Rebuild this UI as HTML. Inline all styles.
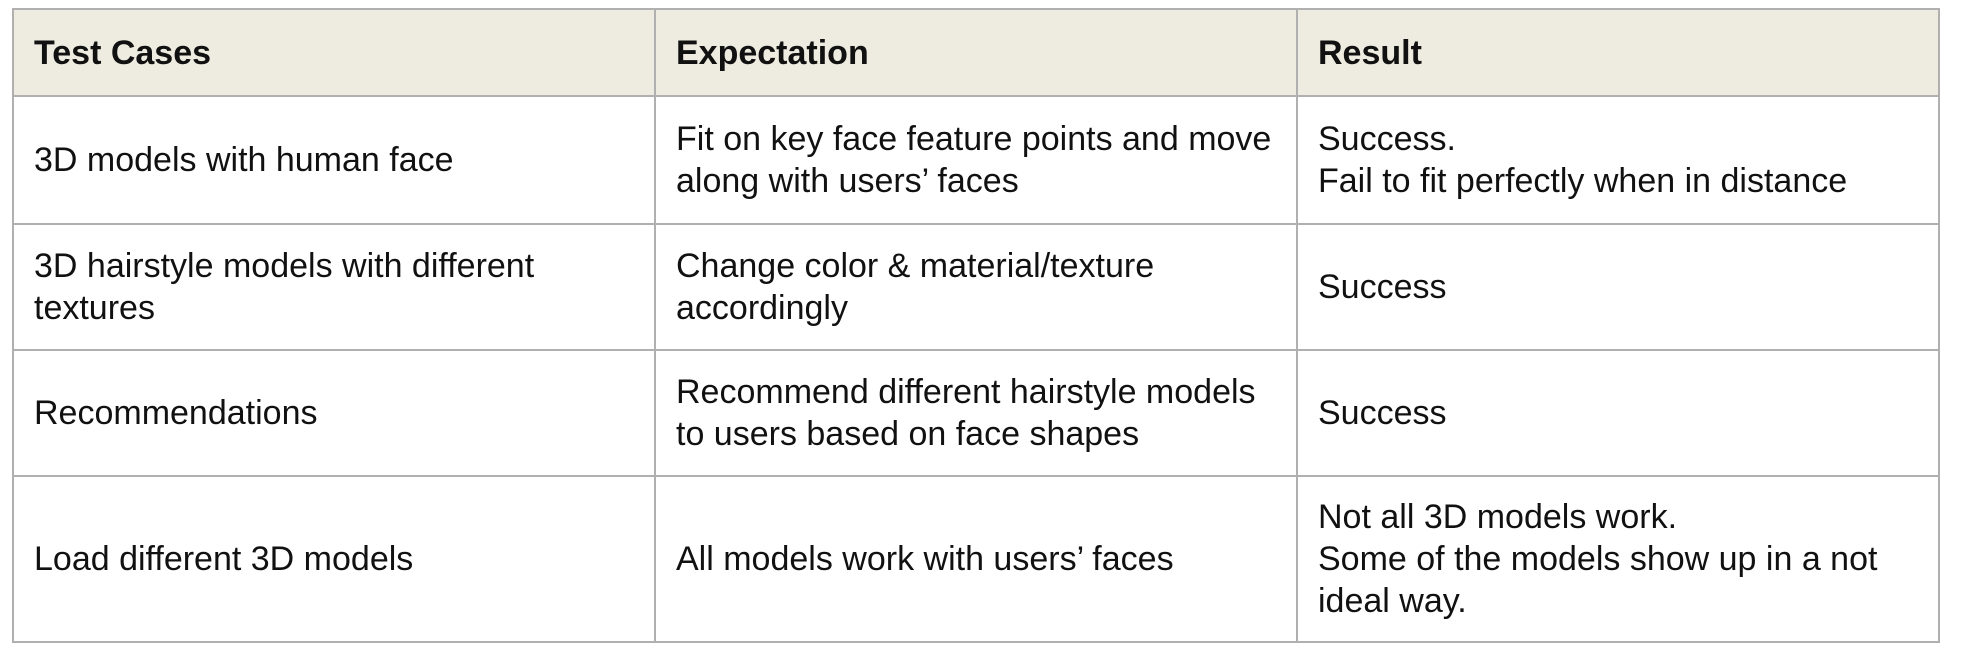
<!DOCTYPE html>
<html><head><style>
html,body{margin:0;padding:0;background:#fff;width:1964px;height:666px;overflow:hidden}
table{position:absolute;left:12px;top:8px;border-collapse:collapse;font-family:"Liberation Sans",sans-serif;font-size:34px;color:#111;letter-spacing:0}
td,th{border:2px solid #b0b0b0;padding:0 20px;text-align:left;vertical-align:middle;line-height:42px;white-space:nowrap}
th{background:#eeebe0;font-weight:bold;height:85px}
</style></head><body>
<table>
<colgroup><col style="width:642px"><col style="width:642px"><col style="width:642px"></colgroup>
<tr><th>Test Cases</th><th>Expectation</th><th>Result</th></tr>
<tr style="height:128px"><td>3D models with human face</td><td>Fit on key face feature points and move<br>along with users’ faces</td><td>Success.<br>Fail to fit perfectly when in distance</td></tr>
<tr style="height:126px"><td>3D hairstyle models with different<br>textures</td><td>Change color &amp; material/texture<br>accordingly</td><td>Success</td></tr>
<tr style="height:126px"><td>Recommendations</td><td>Recommend different hairstyle models<br>to users based on face shapes</td><td>Success</td></tr>
<tr style="height:166px"><td>Load different 3D models</td><td>All models work with users’ faces</td><td>Not all 3D models work.<br>Some of the models show up in a not<br>ideal way.</td></tr>
</table>
</body></html>
